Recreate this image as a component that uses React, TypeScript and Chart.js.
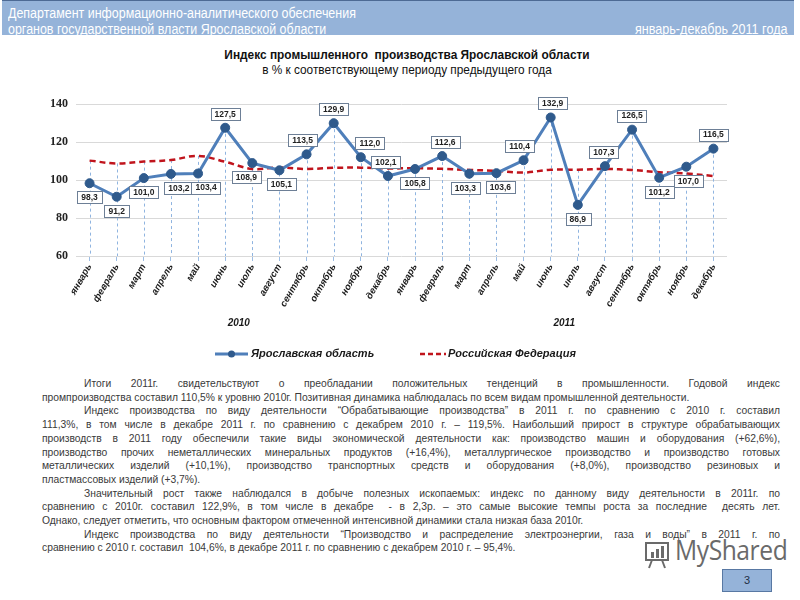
import React, { useEffect, useRef } from 'react';
import { Chart, registerables } from 'chart.js';

Chart.register(...registerables);

const months = ['январь', 'февраль', 'март', 'апрель', 'май', 'июнь', 'июль', 'август', 'сентябрь', 'октябрь', 'ноябрь', 'декабрь'];
const categories = [...months, ...months];
const years = ['2010', '2011'];
const yaroslavl = [98.3, 91.2, 101.0, 103.2, 103.4, 127.5, 108.9, 105.1, 113.5, 129.9, 112.0, 102.1,
  105.8, 112.6, 103.3, 103.6, 110.4, 132.9, 86.9, 107.3, 126.5, 101.2, 107.0, 116.5];
const russia = [110.2, 108.7, 109.7, 110.5, 112.7, 109.6, 105.8, 106.6, 105.8, 106.4, 106.5, 106.1,
  106.2, 105.9, 105.3, 104.8, 103.9, 105.4, 105.4, 105.8, 105.3, 104.1, 103.4, 102.1];
const yTicks = [60, 80, 100, 120, 140];
const seriesNames = ['Ярославская область', 'Российская Федерация'];

// label placement (a = above, b = below) and small horizontal nudges
const labelSide = ['b', 'b', 'b', 'b', 'b', 'a', 'b', 'b', 'a', 'a', 'a', 'a',
  'b', 'a', 'b', 'b', 'a', 'a', 'b', 'a', 'a', 'b', 'b', 'a'];
const labelNudge = [0, 0, 0, 8, 8, 0, -6, 2, -4, 0, 9, -2,
  0, 3, -4, 4, -4, 2, 0, -1, 0, 0, 2, 0];

const headerLines = ['Департамент информационно-аналитического обеспечения', 'органов государственной власти Ярославской области'];
const headerRight = 'январь-декабрь 2011 года';
const chartTitle = 'Индекс промышленного  производства Ярославской области';
const chartSubtitle = 'в % к соответствующему периоду предыдущего года';
const watermark = 'MyShared';

// [text, indent, justify]
const bodyLines: [string, boolean, boolean][] = [
  ['Итоги 2011г. свидетельствуют о преобладании положительных тенденций в промышленности. Годовой индекс', true, true],
  ['промпроизводства составил 110,5% к уровню 2010г. Позитивная динамика наблюдалась по всем видам промышленной деятельности.', false, false],
  ['Индекс производства по виду деятельности “Обрабатывающие производства” в 2011 г. по сравнению с 2010 г. составил', true, true],
  ['111,3%, в том числе в декабре 2011 г. по сравнению с декабрем 2010 г. – 119,5%. Наибольший прирост в структуре обрабатывающих', false, true],
  ['производств в 2011 году обеспечили такие виды экономической деятельности как: производство машин и оборудования (+62,6%),', false, true],
  ['производство прочих неметаллических минеральных продуктов (+16,4%), металлургическое производство и производство готовых', false, true],
  ['металлических изделий (+10,1%), производство транспортных средств и оборудования (+8,0%), производство резиновых и', false, true],
  ['пластмассовых изделий (+3,7%).', false, false],
  ['Значительный рост также наблюдался в добыче полезных ископаемых: индекс по данному виду деятельности в 2011г. по', true, true],
  ['сравнению с 2010г. составил 122,9%, в том числе в декабре  - в 2,3р. – это самые высокие темпы роста за последние  десять лет.', false, true],
  ['Однако, следует отметить, что основным фактором отмеченной интенсивной динамики стала низкая база 2010г.', false, false],
  ['Индекс производства по виду деятельности “Производство и распределение электроэнергии, газа и воды” в 2011 г. по', true, true],
  ['сравнению с 2010 г. составил  104,6%, в декабре 2011 г. по сравнению с декабрем 2010 г. – 95,4%.', false, false],
];
const pageNumber = '3';

const BLUE = '#4f7fba';
const BLUE_DARK = '#2f5a8c';
const RED = '#c0141c';

const extrasPlugin = {
  id: 'extras',
  beforeDatasetsDraw(chart: any) {
    const { ctx, chartArea } = chart;
    const m0 = chart.getDatasetMeta(0);
    const m1 = chart.getDatasetMeta(1);
    ctx.save();
    ctx.strokeStyle = '#8fb4e0';
    ctx.lineWidth = 1;
    ctx.setLineDash([3, 3]);
    m0.data.forEach((pt: any, i: number) => {
      const top = Math.min(pt.y, m1.data[i].y);
      const x = Math.round(pt.x) + 0.5;
      ctx.beginPath();
      ctx.moveTo(x, top);
      ctx.lineTo(x, chartArea.bottom);
      ctx.stroke();
    });
    ctx.restore();
  },
  afterDatasetsDraw(chart: any) {
    const { ctx } = chart;
    const m0 = chart.getDatasetMeta(0);
    ctx.save();
    ctx.font = 'bold 8.5px "Liberation Sans", Arial, sans-serif';
    ctx.textAlign = 'center';
    ctx.textBaseline = 'middle';
    m0.data.forEach((pt: any, i: number) => {
      const txt = yaroslavl[i].toFixed(1).replace('.', ',');
      const w = ctx.measureText(txt).width + 8;
      const h = 12;
      const cx = pt.x + labelNudge[i];
      const cy = labelSide[i] === 'a' ? pt.y - 14 : pt.y + 14;
      ctx.fillStyle = '#ffffff';
      ctx.fillRect(Math.round(cx - w / 2) + 0.5, Math.round(cy - h / 2) + 0.5, Math.round(w), h);
      ctx.strokeStyle = '#6d7f96';
      ctx.lineWidth = 1;
      ctx.strokeRect(Math.round(cx - w / 2) + 0.5, Math.round(cy - h / 2) + 0.5, Math.round(w), h);
      ctx.fillStyle = '#222222';
      ctx.fillText(txt, cx, cy + 0.5);
    });
    ctx.restore();
  },
  afterDraw(chart: any) {
    const { ctx } = chart;
    const xs = chart.scales.x;
    ctx.save();
    ctx.fillStyle = '#1a1a1a';
    ctx.font = 'italic bold 10px "Liberation Sans", Arial, sans-serif';
    ctx.textAlign = 'center';
    ctx.textBaseline = 'middle';
    years.forEach((yr, k) => {
      const a = xs.getPixelForValue(k * 12);
      const b = xs.getPixelForValue(k * 12 + 11);
      ctx.fillText(yr, (a + b) / 2, 283);
    });
    // legend
    const ly = 314;
    ctx.font = 'italic bold 11px "Liberation Sans", Arial, sans-serif';
    ctx.textAlign = 'left';
    ctx.strokeStyle = BLUE;
    ctx.lineWidth = 3;
    ctx.setLineDash([]);
    ctx.beginPath();
    ctx.moveTo(215, ly);
    ctx.lineTo(248, ly);
    ctx.stroke();
    ctx.fillStyle = BLUE_DARK;
    ctx.beginPath();
    ctx.arc(231.5, ly, 3.5, 0, Math.PI * 2);
    ctx.fill();
    ctx.fillStyle = '#1a1a1a';
    ctx.fillText(seriesNames[0], 251, ly);
    ctx.strokeStyle = RED;
    ctx.lineWidth = 2.5;
    ctx.setLineDash([5, 3]);
    ctx.beginPath();
    ctx.moveTo(420, ly);
    ctx.lineTo(446, ly);
    ctx.stroke();
    ctx.setLineDash([]);
    ctx.fillText(seriesNames[1], 448, ly);
    ctx.restore();
  },
};

function ChartBlock() {
  const ref = useRef<HTMLCanvasElement>(null);
  useEffect(() => {
    if (!ref.current) return;
    const chart = new Chart(ref.current, {
      type: 'line',
      data: {
        labels: categories,
        datasets: [
          {
            label: seriesNames[0],
            data: yaroslavl,
            borderColor: BLUE,
            borderWidth: 3,
            pointRadius: 4.5,
            pointBackgroundColor: BLUE_DARK,
            pointBorderColor: BLUE_DARK,
            pointBorderWidth: 1,
            tension: 0,
            order: 0,
          },
          {
            label: seriesNames[1],
            data: russia,
            borderColor: RED,
            borderWidth: 2.5,
            borderDash: [6, 4],
            pointRadius: 0,
            tension: 0.35,
            order: 1,
          },
        ],
      },
      options: {
        responsive: false,
        animation: false,
        layout: { padding: { top: 64, left: 0, right: 73, bottom: 59 } },
        plugins: {
          legend: { display: false },
          title: { display: false },
          tooltip: { enabled: false },
        },
        scales: {
          x: {
            offset: true,
            grid: {
              display: true,
              offset: false,
              drawOnChartArea: false,
              drawTicks: true,
              tickLength: 5,
              color: '#9cbde4',
            },
            border: { display: false },
            ticks: {
              minRotation: 60,
              maxRotation: 60,
              autoSkip: false,
              padding: 1,
              color: '#1a1a1a',
              font: { family: '"Liberation Sans", Arial, sans-serif', size: 9.5, style: 'italic', weight: 'bold' },
            },
            afterFit: (axis: any) => { axis.height = 60; },
          },
          y: {
            min: 60,
            max: 140,
            afterBuildTicks: (axis: any) => { axis.ticks = yTicks.map((v) => ({ value: v })); },
            grid: { color: '#d9d9d9', drawTicks: false },
            border: { display: false },
            ticks: {
              padding: 8,
              color: '#222222',
              font: { family: '"Liberation Serif", "Times New Roman", serif', size: 12, weight: 'bold' },
            },
            afterFit: (axis: any) => { axis.width = 76; },
          },
        },
      },
      plugins: [extrasPlugin],
    });
    return () => chart.destroy();
  }, []);
  return <canvas ref={ref} width={800} height={335} style={{ position: 'absolute', left: 0, top: 40, width: 800, height: 335 }} />;
}

export default function App() {
  const sans = '"Liberation Sans", Arial, sans-serif';
  return (
    <div style={{ position: 'fixed', left: 0, top: 0, width: 800, height: 600, background: '#ffffff', overflow: 'hidden' }}>
      <div style={{ position: 'absolute', left: 2, top: 0, width: 792, height: 35, background: '#95b3d9', borderTop: '1px solid #4d6a94', boxSizing: 'border-box' }} />
      <div style={{ position: 'absolute', left: 8, top: 5, color: '#ffffff', fontFamily: sans, fontSize: 14, lineHeight: '16px', whiteSpace: 'nowrap', transform: 'scaleX(0.89)', transformOrigin: '0 0' }}>
        <div>{headerLines[0]}</div>
        <div>{headerLines[1]}</div>
      </div>
      <div style={{ position: 'absolute', right: 12, top: 21, color: '#ffffff', fontFamily: sans, fontSize: 14, lineHeight: '16px', whiteSpace: 'nowrap', transform: 'scaleX(0.9)', transformOrigin: '100% 0' }}>{headerRight}</div>
      <div style={{ position: 'absolute', left: 0, width: 814, top: 47, textAlign: 'center', fontFamily: sans, color: '#111', lineHeight: '15px' }}>
        <div style={{ fontWeight: 'bold', fontSize: 13.5, whiteSpace: 'pre', transform: 'scaleX(0.88)', transformOrigin: '407px 0' }}>{chartTitle}</div>
        <div style={{ fontSize: 13, transform: 'scaleX(0.91)', transformOrigin: '407px 0' }}>{chartSubtitle}</div>
      </div>
      <ChartBlock />
      <div style={{ position: 'absolute', left: 42, top: 377, width: 738, fontFamily: sans, fontSize: 10.3, lineHeight: '13.7px', color: '#3a3a3a' }}>
        {bodyLines.map(([t, indent, just], i) => (
          <div key={i} style={{ whiteSpace: 'pre', textIndent: indent ? 42 : 0, textAlign: just ? 'justify' : 'left', textAlignLast: just ? 'justify' : 'left' }}>{t}</div>
        ))}
      </div>
      <svg width={30} height={30} style={{ position: 'absolute', left: 642, top: 540 }}>
        <rect x={4} y={3} width={22} height={17} fill="none" stroke="#6a6a6a" strokeWidth={2} />
        <rect x={9} y={12} width={3} height={6} fill="#6a6a6a" />
        <rect x={14} y={9} width={3} height={9} fill="#6a6a6a" />
        <rect x={19} y={6} width={3} height={12} fill="#6a6a6a" />
        <line x1={10} y1={20} x2={7} y2={28} stroke="#6a6a6a" strokeWidth={2} />
        <line x1={20} y1={20} x2={23} y2={28} stroke="#6a6a6a" strokeWidth={2} />
      </svg>
      <div style={{ position: 'absolute', left: 675, top: 532, fontFamily: '"Open Sans", "Noto Sans", sans-serif', fontSize: 28, lineHeight: '34px', color: '#6a6a6a', letterSpacing: -0.5, whiteSpace: 'nowrap', transform: 'scaleX(0.88)', transformOrigin: '0 0' }}>{watermark}</div>
      <div style={{ position: 'absolute', left: 722, top: 569, width: 50, height: 23, background: '#95b3d9', border: '1px solid #5878a3', boxSizing: 'border-box', textAlign: 'center', fontFamily: sans, fontSize: 11, lineHeight: '21px', color: '#1f2f45' }}>{pageNumber}</div>
    </div>
  );
}
